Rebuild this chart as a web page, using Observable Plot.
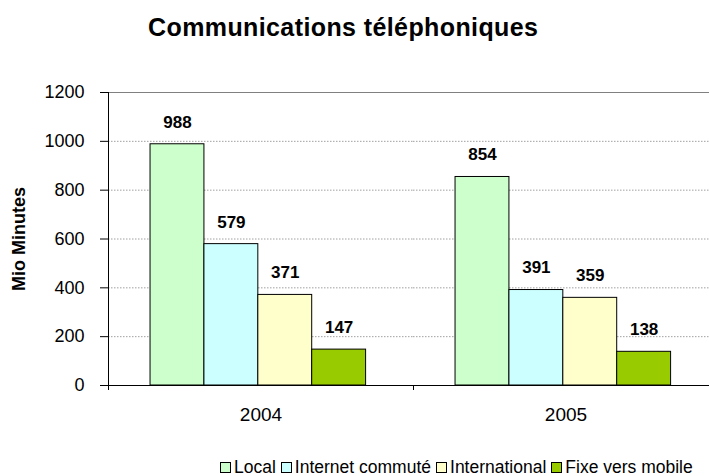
<!DOCTYPE html>
<html><head><meta charset="utf-8">
<script src="https://cdn.jsdelivr.net/npm/d3@7"></script>
<script src="https://cdn.jsdelivr.net/npm/@observablehq/plot@0.6"></script>
<style>
body{margin:0;background:#fff;font-family:"Liberation Sans",Arial,sans-serif;color:#000;width:709px;overflow:hidden}
#title{height:60px;box-sizing:border-box;padding-top:13px;padding-left:148px;font-weight:bold;font-size:25px;letter-spacing:0.4px;line-height:28px;white-space:nowrap}
#legend{height:36px;box-sizing:border-box;padding-top:17px;padding-left:220px;font-size:17.5px;line-height:20px;white-space:nowrap}
.item{margin-right:5px}
.sw{display:inline-block;width:9px;height:9px;border:1px solid #000;margin-right:3px;vertical-align:baseline}
</style></head><body>
<div id="title"></div>
<div id="chart"></div>
<div id="legend"></div>
<script>
const titleText = "Communications téléphoniques";
const yLabel = "Mio Minutes";
const years = ["2004", "2005"];
const series = ["Local", "Internet commuté", "International", "Fixe vers mobile"];
const values2004 = [988, 579, 371, 147];
const values2005 = [854, 391, 359, 138];
const colors = ["#CCFFCC", "#CCFFFF", "#FFFFCC", "#99CC00"];
const yTicks = [0, 200, 400, 600, 800, 1000, 1200];

const valuesByYear = [values2004, values2005];
const data = years.flatMap((yr, i) => series.map((s, j) => ({year: yr, series: s, value: valuesByYear[i][j]})));

document.getElementById("title").textContent = titleText;

const plot = Plot.plot({
  width: 709, height: 380,
  marginLeft: 107, marginRight: -9, marginTop: 32, marginBottom: 55,
  style: {fontFamily: "'Liberation Sans', Arial, sans-serif", fontSize: "18px", color: "#000", background: "#fff", overflow: "hidden"},
  fx: {domain: years, padding: 0, label: null},
  x: {domain: series, paddingInner: 0, paddingOuter: 0.83, align: 0.47, round: false, axis: null},
  y: {domain: [0, 1200], label: null, axis: null},
  color: {domain: series, range: colors},
  marks: [
    Plot.ruleY(yTicks.filter(v => v > 0 && v < 1200), {stroke: "#a0a0a0", strokeDasharray: "1.5,1.5"}),
    Plot.ruleY([1200], {stroke: "#808080"}),
    Plot.barY(data, {fx: "year", x: "series", y: "value", fill: "series", stroke: "#000", strokeWidth: 1}),
    Plot.text(data, {fx: "year", x: "series", y: "value", text: d => String(d.value), dy: -22, fontWeight: "bold", fontSize: 17, fill: "#000"}),
    Plot.ruleY([0], {stroke: "#000"}),
    Plot.axisY({ticks: yTicks, tickSize: 8, tickPadding: 16, fontSize: 18, label: null, tickFormat: d => String(d)}),
    Plot.axisY({ticks: [], label: yLabel, labelAnchor: "center", labelArrow: "none", labelOffset: 96, fontWeight: "bold", fontSize: 18}),
    Plot.axisFx({anchor: "bottom", tickSize: 0, tickPadding: 22, fontSize: 19, label: null})
  ]
});
document.getElementById("chart").appendChild(plot);

// axis line and category boundary ticks, positioned from Plot's own scales
const svg = d3.select(plot.tagName.toLowerCase() === "svg" ? plot : plot.querySelector("svg"));
const fxS = plot.scale("fx"), yS = plot.scale("y");
const y0 = yS.apply(0), yTop = yS.apply(yTicks[yTicks.length - 1]);
const g = svg.append("g").attr("stroke", "#000").attr("stroke-width", 1);
const xa = fxS.apply(years[0]) + 0.5;
g.append("line").attr("x1", xa).attr("x2", xa).attr("y1", yTop).attr("y2", y0 + 5);
years.forEach(yr => {
  const xs = fxS.apply(yr) + fxS.bandwidth + 0.5;
  g.append("line").attr("x1", xs).attr("x2", xs).attr("y1", y0).attr("y2", y0 + 5);
});

const legend = d3.select("#legend");
series.forEach((s, i) => {
  const it = legend.append("span").attr("class", "item");
  it.append("span").attr("class", "sw").style("background", colors[i]);
  it.append("span").text(s);
});
</script>
</body></html>
